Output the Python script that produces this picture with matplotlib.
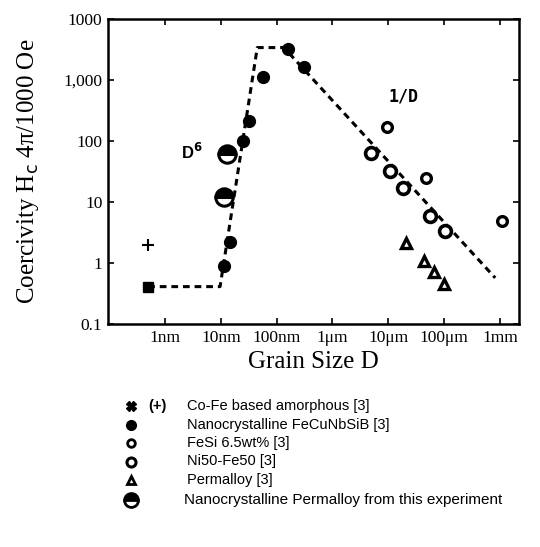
import matplotlib
matplotlib.use("Agg")
import matplotlib.pyplot as plt
from matplotlib.lines import Line2D

# ---- data (grain size in nm, coercivity) ----
amorph_sq_x = [0.5]
amorph_sq_y = [0.41]
amorph_plus_x = [0.5]
amorph_plus_y = [2.0]

fecunbsib_x = [11.4, 14.6, 25, 32, 57, 160, 310]
fecunbsib_y = [0.9, 2.25, 100, 215, 1100, 3170, 1650]

fesi_x = [9400, 48000, 1.1e6]
fesi_y = [170, 25, 4.9]

nife_x = [4900, 10500, 18000, 56000, 1.05e5]
nife_y = [63, 32, 17, 6.0, 3.3]

permalloy_x = [21000, 44000, 65000, 1.0e5]
permalloy_y = [2.1, 1.07, 0.71, 0.46]

this_exp_x = [11.4, 13]
this_exp_y = [12, 61]

trend_x = [0.5, 9.7, 45, 135, 8.2e5]
trend_y = [0.41, 0.41, 3400, 3400, 0.57]

xtick_vals = [1, 10, 100, 1e3, 1e4, 1e5, 1e6]
xtick_labels = ["1nm", "10nm", "100nm", "1\u03bcm", "10\u03bcm", "100\u03bcm", "1mm"]
ytick_vals = [0.1, 1, 10, 100, 1000, 10000]
ytick_labels = ["0.1", "1", "10", "100", "1,000", "1000"]

legend_labels = [
    "Co-Fe based amorphous [3]",
    "Nanocrystalline FeCuNbSiB [3]",
    "FeSi 6.5wt% [3]",
    "Ni50-Fe50 [3]",
    "Permalloy [3]",
    "Nanocrystalline Permalloy from this experiment",
]

W, H = 540, 547
fig = plt.figure(figsize=(W / 100, H / 100), dpi=100)
ax = fig.add_axes([108 / W, 1 - 324 / H, (519 - 108) / W, (324 - 19) / H])
ax.set_xscale("log")
ax.set_yscale("log")
ax.set_xlim(10 ** -1.02, 10 ** 6.34)
ax.set_ylim(0.1, 10000)

serif = "Liberation Serif"
sans = "Liberation Sans"

ax.plot(trend_x, trend_y, ls=(0, (2.2, 1.6)), color="black", lw=2.2, zorder=2)

ax.plot(amorph_sq_x, amorph_sq_y, ls="none", marker="s", ms=7.5, mfc="black", mec="black", zorder=3)
ax.plot(amorph_plus_x, amorph_plus_y, ls="none", marker="+", ms=8, mew=1.5, color="black", zorder=3)
ax.plot(fecunbsib_x, fecunbsib_y, ls="none", marker="o", ms=8.5, mfc="black", mec="black", zorder=3)
ax.plot(fesi_x, fesi_y, ls="none", marker="o", ms=7, mfc="white", mec="black", mew=2.4, zorder=3)
ax.plot(nife_x, nife_y, ls="none", marker="o", ms=8.5, mfc="white", mec="black", mew=2.6, zorder=3)
ax.plot(permalloy_x, permalloy_y, ls="none", marker="^", ms=7, mfc="white", mec="black", mew=2.4, zorder=3)
ax.plot(this_exp_x, this_exp_y, ls="none", marker="o", ms=12.5, fillstyle="top",
        mfc="black", mfcalt="white", mec="black", mew=2.2, zorder=4)

ax.annotate("D$^{\\mathbf{6}}$", xy=(10 ** ((192 - 165) / 55.8), 10 ** ((323 - 152) / 60.6 - 1)),
            ha="center", va="center", fontsize=12, fontfamily=sans, fontweight="bold")
ax.annotate("1/D", xy=(10 ** ((403 - 165) / 55.8), 10 ** ((323 - 97) / 60.6 - 1)),
            ha="center", va="center", fontsize=12, fontfamily="DejaVu Sans Mono", fontweight="bold")

ax.set_xticks(xtick_vals)
ax.set_xticklabels(xtick_labels, fontfamily=serif, fontsize=12.5)
ax.set_yticks(ytick_vals)
ax.set_yticklabels(ytick_labels, fontfamily=serif, fontsize=12.5)
ax.minorticks_off()
ax.tick_params(which="both", direction="in", top=True, right=True, length=4, width=1.2, pad=4)
for s in ax.spines.values():
    s.set_linewidth(1.8)

ax.set_xlabel("Grain Size D", fontfamily=serif, fontsize=18, labelpad=4)
ax.set_ylabel("Coercivity H$_\\mathrm{c}$ 4\u03c0/1000 Oe", fontfamily=serif, fontsize=18, labelpad=16)

# ---- legend below the plot ----
def fx(px):
    return px / W

def fy(py):
    return 1 - py / H

rows_y = [406, 424.5, 443, 461.5, 480, 500]
mx = 131
tx = 187
styles = [
    dict(marker="X", ms=7, mfc="black", mec="black"),
    dict(marker="o", ms=7, mfc="black", mec="black"),
    dict(marker="o", ms=5.5, mfc="white", mec="black", mew=2),
    dict(marker="o", ms=6.5, mfc="white", mec="black", mew=2.2),
    dict(marker="^", ms=5.5, mfc="white", mec="black", mew=2),
    dict(marker="o", ms=10, fillstyle="top", mfc="black", mfcalt="white", mec="black", mew=2),
]
for i, (ry, lab, st) in enumerate(zip(rows_y, legend_labels, styles)):
    fig.add_artist(Line2D([fx(mx)], [fy(ry)], ls="none", transform=fig.transFigure, **st))
    fs = 10.5 if i < 5 else 11
    x0 = tx if i < 5 else 184
    fig.text(fx(x0), fy(ry), lab, fontfamily=sans, fontsize=fs, va="center", ha="left")
fig.text(fx(157), fy(rows_y[0]), "(+)", fontfamily=sans, fontsize=10.5, va="center", ha="center",
         fontweight="bold")

fig.savefig("out.png", dpi=100)
